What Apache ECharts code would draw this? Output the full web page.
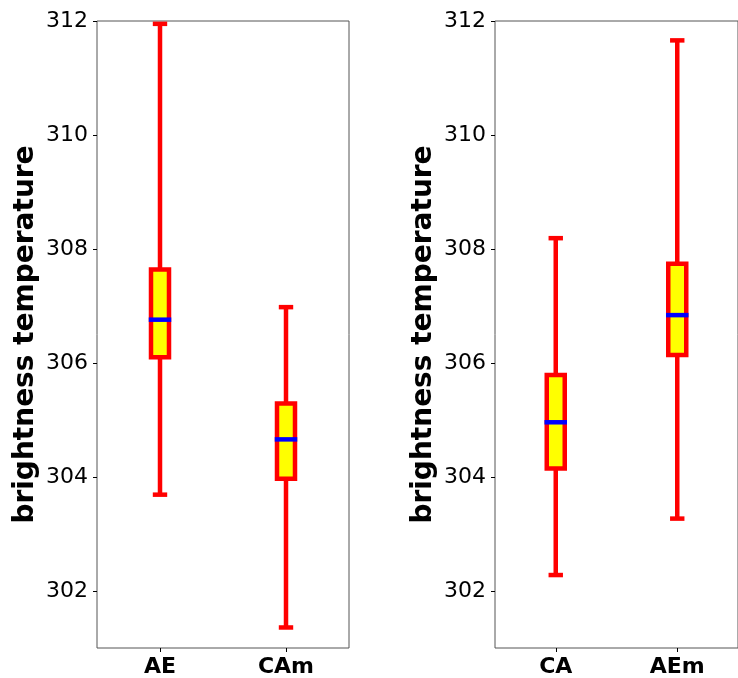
<!DOCTYPE html>
<html>
<head>
<meta charset="utf-8">
<script src="https://cdn.jsdelivr.net/npm/echarts@6/dist/echarts.min.js"></script>
<style>html,body{margin:0;padding:0;background:#fff}#c{width:738px;height:678px}</style>
</head>
<body>
<div id="c"></div>
<script>
// categories
const catsLeft = ['AE', 'CAm'];
const catsRight = ['CA', 'AEm'];
// box stats: [min, q1, median, q3, max]
const statsAE  = [303.69, 306.10, 306.76, 307.64, 311.95];
const statsCAm = [301.36, 303.97, 304.66, 305.29, 306.98];
const statsCA  = [302.28, 304.15, 304.96, 305.79, 308.19];
const statsAEm = [303.27, 306.14, 306.84, 307.74, 311.66];
// y-axis tick labels
const yTicks = [302, 304, 306, 308, 310, 312];
const yMin = 301.0, yMax = 312;
const yName = 'brightness temperature';

const FONT = 'DejaVu Sans';
const RED = '#ff0000', YEL = '#ffff00', BLUE = '#0000ff';
const LW = 4.5, BOX_HALF = 9, CAP_HALF = 7.2;

function renderItem(params, api) {
  const x = api.value(0);
  const pMin = api.coord([x, api.value(1)]);
  const pQ1 = api.coord([x, api.value(2)]);
  const pMed = api.coord([x, api.value(3)]);
  const pQ3 = api.coord([x, api.value(4)]);
  const pMax = api.coord([x, api.value(5)]);
  const cx = pMin[0];
  const ln = (x1, y1, x2, y2, color) => ({
    type: 'line', shape: {x1, y1, x2, y2},
    style: {stroke: color, lineWidth: LW, lineCap: 'butt'}
  });
  return {
    type: 'group',
    children: [
      ln(cx, pMin[1], cx, pQ1[1], RED),
      ln(cx, pQ3[1], cx, pMax[1], RED),
      ln(cx - CAP_HALF, pMin[1], cx + CAP_HALF, pMin[1], RED),
      ln(cx - CAP_HALF, pMax[1], cx + CAP_HALF, pMax[1], RED),
      {type: 'rect', shape: {x: cx - BOX_HALF, y: pQ3[1], width: 2 * BOX_HALF, height: pQ1[1] - pQ3[1]},
       style: {fill: YEL, stroke: RED, lineWidth: LW}},
      ln(cx - BOX_HALF - LW / 2, pMed[1], cx + BOX_HALF + LW / 2, pMed[1], BLUE)
    ]
  };
}

function yAxisDef(gi) {
  return {
    type: 'value', gridIndex: gi, min: yMin, max: yMax,
    name: yName, nameLocation: 'middle', nameGap: 57,
    nameTextStyle: {fontFamily: FONT, fontSize: 28, fontWeight: 'bold', color: '#000'},
    axisLine: {show: false},
    axisTick: {show: true, inside: false, length: 4, lineStyle: {color: '#000', width: 1}, customValues: yTicks},
    axisLabel: {fontFamily: FONT, fontSize: 22, color: '#000', margin: 9, customValues: yTicks,
      formatter: v => String(Math.round(v))},
    splitLine: {show: false}
  };
}
function xAxisDef(gi, cats) {
  return {
    type: 'category', gridIndex: gi, data: cats, boundaryGap: true,
    axisLine: {show: false},
    axisTick: {show: true, alignWithLabel: true, length: 4, lineStyle: {color: '#000', width: 1}},
    axisLabel: {fontFamily: FONT, fontSize: 22, fontWeight: 'bold', color: '#000', margin: 8},
    splitLine: {show: false}
  };
}

const chart = echarts.init(document.getElementById('c'), null, {renderer: 'canvas'});
chart.setOption({
  animation: false,
  backgroundColor: '#fff',
  grid: [
    {left: 97, top: 21, width: 252, height: 632, show: true, borderColor: '#555', borderWidth: 1, backgroundColor: 'transparent'},
    {left: 495, top: 21, width: 252, height: 632, show: true, borderColor: '#555', borderWidth: 1, backgroundColor: 'transparent'}
  ],
  xAxis: [xAxisDef(0, catsLeft), xAxisDef(1, catsRight)],
  yAxis: [yAxisDef(0), yAxisDef(1)],
  series: [
    {type: 'custom', xAxisIndex: 0, yAxisIndex: 0, renderItem, clip: false,
     encode: {x: 0, y: [1, 2, 3, 4, 5]},
     data: [[0].concat(statsAE), [1].concat(statsCAm)]},
    {type: 'custom', xAxisIndex: 1, yAxisIndex: 1, renderItem, clip: false,
     encode: {x: 0, y: [1, 2, 3, 4, 5]},
     data: [[0].concat(statsCA), [1].concat(statsAEm)]}
  ]
});
</script>
</body>
</html>
